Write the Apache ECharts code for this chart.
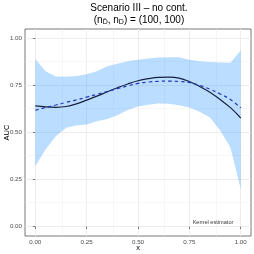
<!DOCTYPE html>
<html>
<head>
<meta charset="utf-8">
<script src="https://cdn.jsdelivr.net/npm/echarts@6/dist/echarts.min.js"></script>
<style>html,body{margin:0;padding:0;background:#fff}#c{width:254px;height:254px}</style>
</head>
<body>
<div id="c"></div>
<script>
var xGrid = [0,0.05,0.1,0.15,0.2,0.25,0.3,0.35,0.4,0.45,0.5,0.55,0.6,0.65,0.7,0.75,0.8,0.85,0.9,0.95,1.0];
var bandUpper = [0.89,0.826,0.798,0.796,0.80,0.81,0.825,0.852,0.866,0.878,0.886,0.893,0.898,0.90,0.90,0.886,0.878,0.874,0.872,0.870,0.936];
var bandLower = [0.32,0.41,0.48,0.525,0.537,0.542,0.56,0.572,0.592,0.62,0.638,0.648,0.654,0.653,0.645,0.633,0.61,0.58,0.51,0.42,0.20];
var trueAUC = [0.641,0.636,0.634,0.638,0.652,0.672,0.693,0.716,0.738,0.758,0.775,0.786,0.793,0.794,0.789,0.771,0.745,0.714,0.675,0.632,0.577];
var estAUC = [0.618,0.633,0.646,0.660,0.673,0.688,0.703,0.718,0.733,0.748,0.761,0.768,0.772,0.773,0.771,0.766,0.75,0.73,0.705,0.675,0.631];
var xTicks = [0,0.25,0.5,0.75,1];
var yTicks = [0,0.25,0.5,0.75,1];
var minorTicks = [0.125,0.375,0.625,0.875];
var titleText = 'Scenario III \u2013 no cont.';
var annotText = 'Kernel estimator';
var annotPos = [0.865, 0.02];

var font = 'Liberation Sans, Arial, sans-serif';
function pairs(ys){ return xGrid.map(function(x,i){ return [x, ys[i]]; }); }

var gridLines = [];
xTicks.forEach(function(v){ gridLines.push({xAxis:v, lineStyle:{type:'solid', width:0.9, color:'#EBEBEB'}}); });
yTicks.forEach(function(v){ gridLines.push({yAxis:v, lineStyle:{type:'solid', width:0.9, color:'#EBEBEB'}}); });
minorTicks.forEach(function(v){
  gridLines.push({xAxis:v, lineStyle:{type:'solid', width:0.5, color:'#EFEFEF'}});
  gridLines.push({yAxis:v, lineStyle:{type:'solid', width:0.5, color:'#EFEFEF'}});
});

var chart = echarts.init(document.getElementById('c'), null, {renderer:'canvas'});
chart.setOption({
  animation: false,
  backgroundColor: '#fff',
  title: [
    {text: titleText, left: 139, top: 3, padding: 0, textAlign: 'center',
     textStyle:{fontFamily: font, fontSize: 10, fontWeight: 'normal', color:'#000'}},
    {text: '(n{s|D\u0304}, n{s|D}) = (100, 100)', left: 139, top: 15, padding: 0, textAlign: 'center',
     textStyle:{fontFamily: font, fontSize: 10, fontWeight: 'normal', color:'#000',
       rich:{s:{fontFamily: font, fontSize: 7, verticalAlign:'bottom', padding:[4,0,0,0], color:'#000'}}}}
  ],
  grid: {left: 25, right: 3, top: 29, bottom: 18, outerBoundsMode: 'none', containLabel: false,
         show: true, borderColor: '#555', borderWidth: 0.8, backgroundColor:'transparent'},
  xAxis: {
    type: 'value', min: -0.05, max: 1.05,
    name: 'x', nameLocation: 'middle', nameGap: 7.5, nameMoveOverlap: false,
    nameTextStyle: {fontFamily: font, fontSize: 7.5, color:'#000'},
    axisLine: {show: false},
    splitLine: {show: false},
    axisTick: {show: true, length: 2.5, customValues: xTicks, lineStyle:{color:'#333', width:0.6}},
    axisLabel: {customValues: xTicks, fontFamily: font, fontSize: 6.2, color:'#4D4D4D', margin: 3,
      formatter: function(v){ return v.toFixed(2); }}
  },
  yAxis: {
    type: 'value', min: -0.05, max: 1.05,
    name: 'AUC', nameLocation: 'middle', nameGap: 14.5, nameRotate: 90, nameMoveOverlap: false,
    nameTextStyle: {fontFamily: font, fontSize: 7.5, color:'#000'},
    axisLine: {show: false},
    splitLine: {show: false},
    axisTick: {show: true, length: 2.5, customValues: yTicks, lineStyle:{color:'#333', width:0.6}},
    axisLabel: {customValues: yTicks, fontFamily: font, fontSize: 6.2, color:'#4D4D4D', margin: 3,
      formatter: function(v){ return v.toFixed(2); }}
  },
  series: [
    {type: 'line', data: [], z: 0, silent: true,
     markLine: {silent: true, symbol: 'none', label:{show:false}, z: 0, animation:false, data: gridLines}},
    {type: 'custom', name: 'band', silent: true, z: 1, data: [[0, 0]],
     renderItem: function(params, api){
       var pts = [];
       for (var i = 0; i < xGrid.length; i++) pts.push(api.coord([xGrid[i], bandUpper[i]]));
       for (var j = xGrid.length - 1; j >= 0; j--) pts.push(api.coord([xGrid[j], bandLower[j]]));
       return {type: 'polygon', shape: {points: pts}, style: {fill: 'rgba(30,144,255,0.3)', stroke: null}};
     }},
    {type: 'line', name: 'true', data: pairs(trueAUC), symbol: 'none', smooth: 0.4,
     lineStyle: {color: '#16213F', width: 1.2}, z: 3},
    {type: 'line', name: 'est', data: pairs(estAUC), symbol: 'none', smooth: 0.4,
     lineStyle: {color: '#2439B8', width: 1.2, type: [3.5, 3]}, z: 4},
    {type: 'scatter', data: [annotPos], symbolSize: 0, silent: true, z: 5,
     label: {show: true, position: 'inside', formatter: annotText, fontFamily: font, fontSize: 5.6, color: '#000'}}
  ]
});
</script>
</body>
</html>
